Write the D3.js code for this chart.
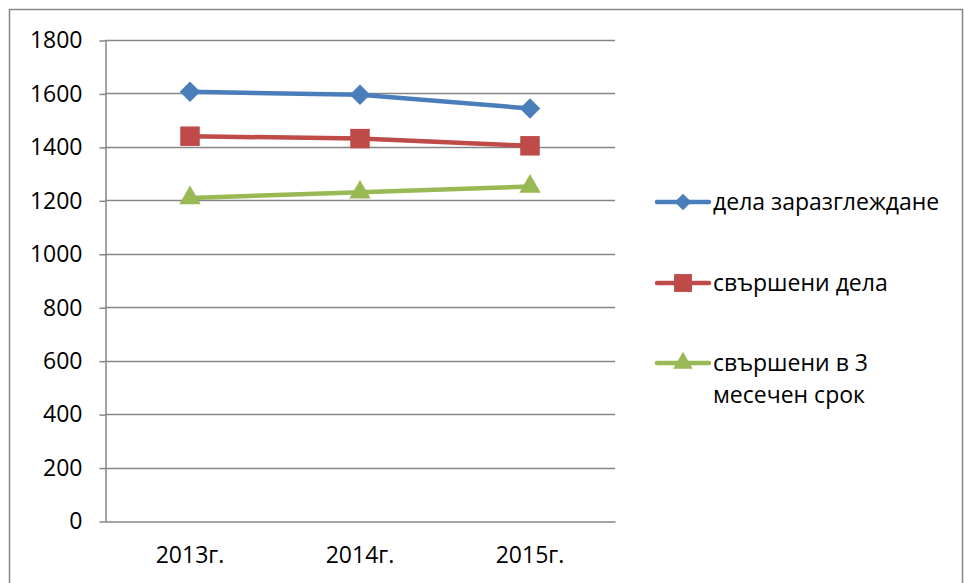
<!DOCTYPE html>
<html>
<head>
<meta charset="utf-8">
<script src="https://cdn.jsdelivr.net/npm/d3@7"></script>
<style>
  body { margin: 0; background: #fff; }
  text { font-family: "Open Sans", "Noto Sans", sans-serif; fill: #000; }
</style>
</head>
<body>
<div id="chart"></div>
<script>
const categories = ["2013г.", "2014г.", "2015г."]
const underReview = [1606, 1595, 1544]
const completed = [1440, 1431, 1404]
const completedIn3Months = [1209, 1230, 1252]
const yTicks = [0, 200, 400, 600, 800, 1000, 1200, 1400, 1600, 1800]

const diamond = {
  draw(ctx, size) {
    const r = Math.sqrt(size / 2)
    ctx.moveTo(0, -r)
    ctx.lineTo(r, 0)
    ctx.lineTo(0, r)
    ctx.lineTo(-r, 0)
    ctx.closePath()
  }
}

const series = [
  { name: ["дела заразглеждане"], values: underReview, color: "#4a7ebb", marker: diamond, size: 210, legendSize: 140, legendY: 202 },
  { name: ["свършени дела"], values: completed, color: "#be4b48", marker: d3.symbolSquare, size: 380, legendSize: 320, legendY: 283 },
  { name: ["свършени в 3", "месечен срок"], values: completedIn3Months, color: "#98b954", marker: d3.symbolTriangle, size: 200, legendSize: 165, legendY: 363 }
]

const width = 965
const height = 583
const margin = { left: 105, top: 40, right: 350, bottom: 62 }
const fontSize = 23

const svg = d3.select("#chart")
  .append("svg")
  .attr("width", width)
  .attr("height", height)

// outer frame
svg.append("rect")
  .attr("x", 9.5)
  .attr("y", 9.5)
  .attr("width", 953)
  .attr("height", 590)
  .attr("fill", "none")
  .attr("stroke", "#868686")
  .attr("stroke-width", 1.5)

const x = d3.scaleBand()
  .domain(categories)
  .range([margin.left, width - margin.right])

const y = d3.scaleLinear()
  .domain([0, 1800])
  .range([height - margin.bottom, margin.top])

// gridlines
svg.append("g")
  .selectAll("line")
  .data(yTicks.filter(d => d > 0))
  .enter()
  .append("line")
  .attr("x1", margin.left)
  .attr("x2", width - margin.right)
  .attr("y1", d => Math.round(y(d)) + 0.5)
  .attr("y2", d => Math.round(y(d)) + 0.5)
  .attr("stroke", "#868686")
  .attr("stroke-width", 1.5)

// y axis
const yAxis = svg.append("g")
  .attr("transform", `translate(${margin.left + 0.5},0.5)`)
  .call(d3.axisLeft(y).tickValues(yTicks).tickFormat(d3.format("d")).tickSize(6).tickPadding(17).tickSizeOuter(0))
yAxis.select(".domain").attr("stroke", "#868686").attr("stroke-width", 1.5)
yAxis.selectAll(".tick line").attr("stroke", "#868686").attr("stroke-width", 1.5)
yAxis.selectAll(".tick text")
  .attr("font-family", "'Open Sans', sans-serif")
  .attr("font-size", fontSize)
  .attr("fill", "#000")

// x axis
const xAxis = svg.append("g")
  .attr("transform", `translate(0,${Math.round(y(0)) + 0.5})`)
  .call(d3.axisBottom(x).tickSize(0).tickPadding(25).tickSizeOuter(0))
xAxis.select(".domain").attr("stroke", "#868686").attr("stroke-width", 1.5)
xAxis.selectAll(".tick text")
  .attr("font-family", "'Open Sans', sans-serif")
  .attr("font-size", fontSize)
  .attr("fill", "#000")

const cx = d => x(d) + x.bandwidth() / 2

const line = d3.line()
  .x((d, i) => cx(categories[i]))
  .y(d => y(d))

series.forEach(s => {
  svg.append("path")
    .datum(s.values)
    .attr("d", line)
    .attr("fill", "none")
    .attr("stroke", s.color)
    .attr("stroke-width", 4.5)
    .attr("stroke-linecap", "round")

  svg.append("g")
    .selectAll("path")
    .data(s.values)
    .enter()
    .append("path")
    .attr("d", d3.symbol().type(s.marker).size(s.size))
    .attr("transform", (d, i) => `translate(${cx(categories[i])},${y(d)})`)
    .attr("fill", s.color)

  // legend
  const lg = svg.append("g").attr("transform", `translate(0,${s.legendY})`)
  lg.append("line")
    .attr("x1", 657)
    .attr("x2", 709)
    .attr("stroke", s.color)
    .attr("stroke-width", 4.5)
    .attr("stroke-linecap", "round")
  lg.append("path")
    .attr("d", d3.symbol().type(s.marker).size(s.legendSize))
    .attr("transform", "translate(683,0)")
    .attr("fill", s.color)
  lg.selectAll("text")
    .data(s.name)
    .enter()
    .append("text")
    .attr("x", 713)
    .attr("y", (d, i) => 8 + i * 32)
    .attr("font-size", fontSize)
    .text(d => d)
})
</script>
</body>
</html>
